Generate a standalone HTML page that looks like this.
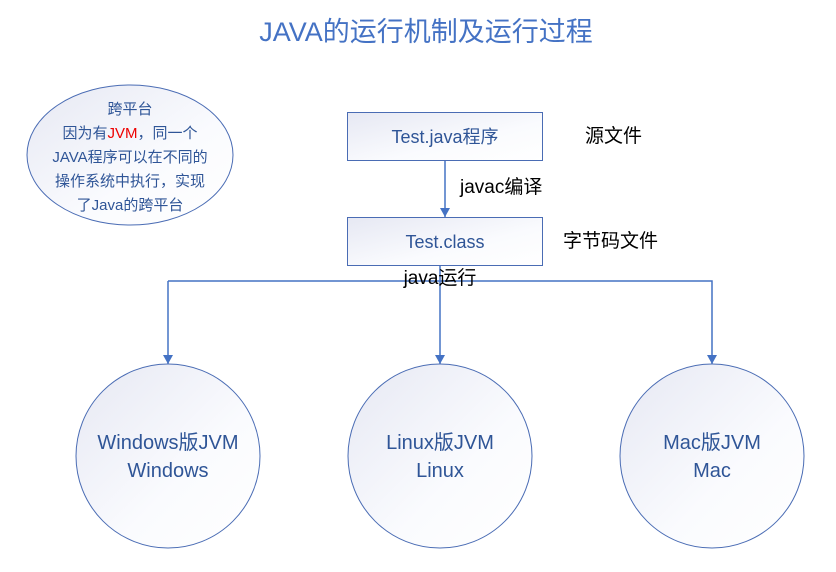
<!DOCTYPE html>
<html><head><meta charset="utf-8"><style>
body{margin:0;background:#fff;width:836px;height:567px;overflow:hidden}
svg text{font-family:"Liberation Sans","Noto Sans CJK SC",sans-serif}
</style></head><body>
<svg width="836" height="567" xmlns="http://www.w3.org/2000/svg">
<defs>
<linearGradient id="g" x1="0" y1="0" x2="1" y2="1"><stop offset="0" stop-color="#e6e8f3"/><stop offset="0.6" stop-color="#fafbfe"/><stop offset="1" stop-color="#fff"/></linearGradient>
<marker id="a" markerWidth="10" markerHeight="10" refX="9" refY="5" orient="auto" markerUnits="userSpaceOnUse"><path d="M0,0 L9,5 L0,10 Z" fill="#4472c4"/></marker>
</defs>
<text x="426" y="41" text-anchor="middle" font-size="27" fill="#4472c4">JAVA的运行机制及运行过程</text>
<ellipse cx="130" cy="155" rx="103" ry="70" fill="url(#g)" stroke="#4a6cb4" stroke-width="1"/>
<g font-size="15" fill="#2f5597" text-anchor="middle">
<text x="130" y="114">跨平台</text>
<text x="130" y="138">因为有<tspan fill="#e00">JVM</tspan>，同一个</text>
<text x="130" y="162">JAVA程序可以在不同的</text>
<text x="130" y="186">操作系统中执行，实现</text>
<text x="130" y="210">了Java的跨平台</text>
</g>
<rect x="347.5" y="112.5" width="195" height="48" fill="url(#g)" stroke="#4a6cb4"/>
<text x="445" y="143" text-anchor="middle" font-size="18" fill="#2f5597">Test.java程序</text>
<text x="585" y="142" font-size="19" fill="#000">源文件</text>
<line x1="445" y1="161" x2="445" y2="217" stroke="#4472c4" stroke-width="1.5" marker-end="url(#a)"/>
<text x="460" y="193" font-size="19" fill="#000">javac编译</text>
<rect x="347.5" y="217.5" width="195" height="48" fill="url(#g)" stroke="#4a6cb4"/>
<text x="445" y="248" text-anchor="middle" font-size="18" fill="#2f5597">Test.class</text>
<text x="563" y="247" font-size="19" fill="#000">字节码文件</text>
<polyline points="440,266 440,281" fill="none" stroke="#4472c4" stroke-width="1.5"/>
<polyline points="168,281 712,281 712,364" fill="none" stroke="#4472c4" stroke-width="1.5" marker-end="url(#a)"/>
<line x1="168" y1="281" x2="168" y2="364" stroke="#4472c4" stroke-width="1.5" marker-end="url(#a)"/>
<line x1="440" y1="281" x2="440" y2="364" stroke="#4472c4" stroke-width="1.5" marker-end="url(#a)"/>
<text x="440" y="284" text-anchor="middle" font-size="19" fill="#000">java运行</text>
<g fill="url(#g)" stroke="#4a6cb4">
<circle cx="168" cy="456" r="92"/><circle cx="440" cy="456" r="92"/><circle cx="712" cy="456" r="92"/>
</g>
<g font-size="20" fill="#2f5597" text-anchor="middle">
<text x="168" y="449">Windows版JVM</text><text x="168" y="477">Windows</text>
<text x="440" y="449">Linux版JVM</text><text x="440" y="477">Linux</text>
<text x="712" y="449">Mac版JVM</text><text x="712" y="477">Mac</text>
</g>
</svg>
</body></html>
